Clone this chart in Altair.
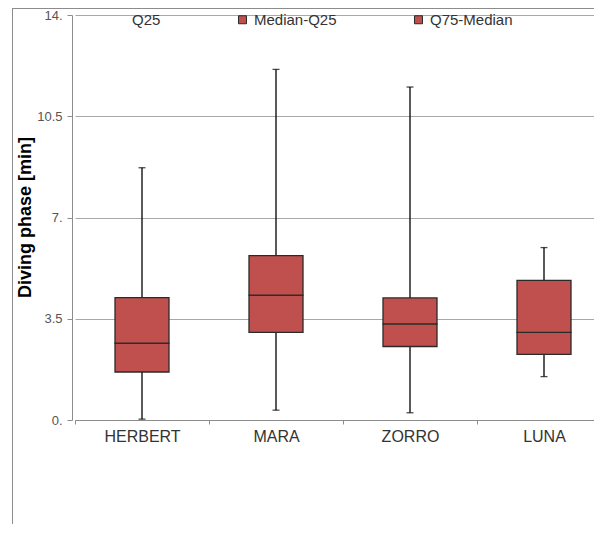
import altair as alt
import pandas as pd

names = ["HERBERT", "MARA", "ZORRO", "LUNA"]
wmin = [0.03, 0.34, 0.25, 1.50]
q25 = [1.66, 3.03, 2.54, 2.27]
median = [2.66, 4.32, 3.32, 3.03]
q75 = [4.23, 5.68, 4.22, 4.83]
wmax = [8.72, 12.12, 11.51, 5.96]
segments = ["Q25", "Median-Q25", "Q75-Median"]
y_ticks = [0, 3.5, 7, 10.5, 14]

rows = []
for i, n in enumerate(names):
    bounds = [0, q25[i], median[i], q75[i]]
    for j, s in enumerate(segments):
        rows.append({"name": n, "segment": s, "order": j,
                     "lo": bounds[j], "hi": bounds[j + 1]})
boxes = pd.DataFrame(rows)
whisk = pd.DataFrame({"name": names, "lo": wmin, "hi": wmax})

FONT = "Liberation Sans"

xenc = alt.X("name:N", sort=names,
             scale=alt.Scale(range=[3, 539], paddingInner=0, paddingOuter=0),
             axis=alt.Axis(title=None, tickBand="extent", labelAngle=0,
                           labelFontSize=16, labelColor="#333333",
                           labelPadding=4, tickSize=4, domainColor="#8c8c8c",
                           tickColor="#8c8c8c", grid=False, labelFont=FONT))

yaxis = alt.Axis(values=y_ticks, title="Diving phase [min]",
                 labelExpr="datum.value % 1 == 0 ? format(datum.value, 'd') + '.' : format(datum.value, '.1f')",
                 labelFontSize=13, labelColor="#555555", labelFont=FONT,
                 labelPadding=5, tickSize=5, tickColor="#8c8c8c",
                 domainColor="#8c8c8c", gridColor="#a8a8a8", grid=True,
                 titleFontSize=18, titleFontWeight="bold", titleColor="#000000",
                 titleFont=FONT, titleX=-47, titleY=202, titleBaseline="middle",
                 titleAlign="center", titleAngle=270)
yscale = alt.Scale(domain=[0, 14], nice=False, zero=True)

leg = alt.Legend(title=None, orient="none", legendX=41, legendY=-3,
                 direction="horizontal", symbolType="square", symbolSize=64,
                 symbolStrokeWidth=1, labelFontSize=15, labelColor="#333333",
                 labelFont=FONT, labelOffset=4, columnPadding=74, padding=0)

whisker = alt.Chart(whisk).mark_rule(color="#000000", strokeWidth=1.3).encode(
    x=xenc,
    y=alt.Y("lo:Q", scale=yscale, axis=yaxis),
    y2="hi:Q",
)

caps = alt.Chart(whisk).transform_fold(["lo", "hi"], as_=["k", "v"]).mark_tick(
    color="#000000", thickness=1.3, size=7).encode(
    x=xenc,
    y=alt.Y("v:Q", scale=yscale, axis=yaxis),
)

bars = alt.Chart(boxes).mark_bar(size=54, strokeWidth=1.3).encode(
    x=xenc,
    y=alt.Y("lo:Q", scale=yscale, axis=yaxis),
    y2="hi:Q",
    fill=alt.Fill("segment:N", sort=segments,
                  scale=alt.Scale(domain=segments,
                                  range=["transparent", "#C0504D", "#C0504D"]),
                  legend=leg),
    stroke=alt.Stroke("segment:N", sort=segments,
                      scale=alt.Scale(domain=segments,
                                      range=["transparent", "#2a2a2a", "#2a2a2a"]),
                      legend=leg),
)

frame_src = pd.DataFrame({"a": [0]})
frame_left = alt.Chart(frame_src).mark_rule(color="#8c8c8c", strokeWidth=1).encode(
    x=alt.value(-59.5), y=alt.value(-7), y2=alt.value(700))
frame_top = alt.Chart(frame_src).mark_rule(color="#8c8c8c", strokeWidth=1).encode(
    x=alt.value(-60), x2=alt.value(700), y=alt.value(-6.5))

chart = alt.layer(whisker, caps, bars, frame_left, frame_top).properties(
    width=522, height=405,
    autosize=alt.AutoSizeParams(type="none"),
    padding={"left": 64, "top": 7, "right": 0, "bottom": 104},
).configure_view(stroke=None)

chart.save("out.html", embed_options={"renderer": "svg", "actions": False})
